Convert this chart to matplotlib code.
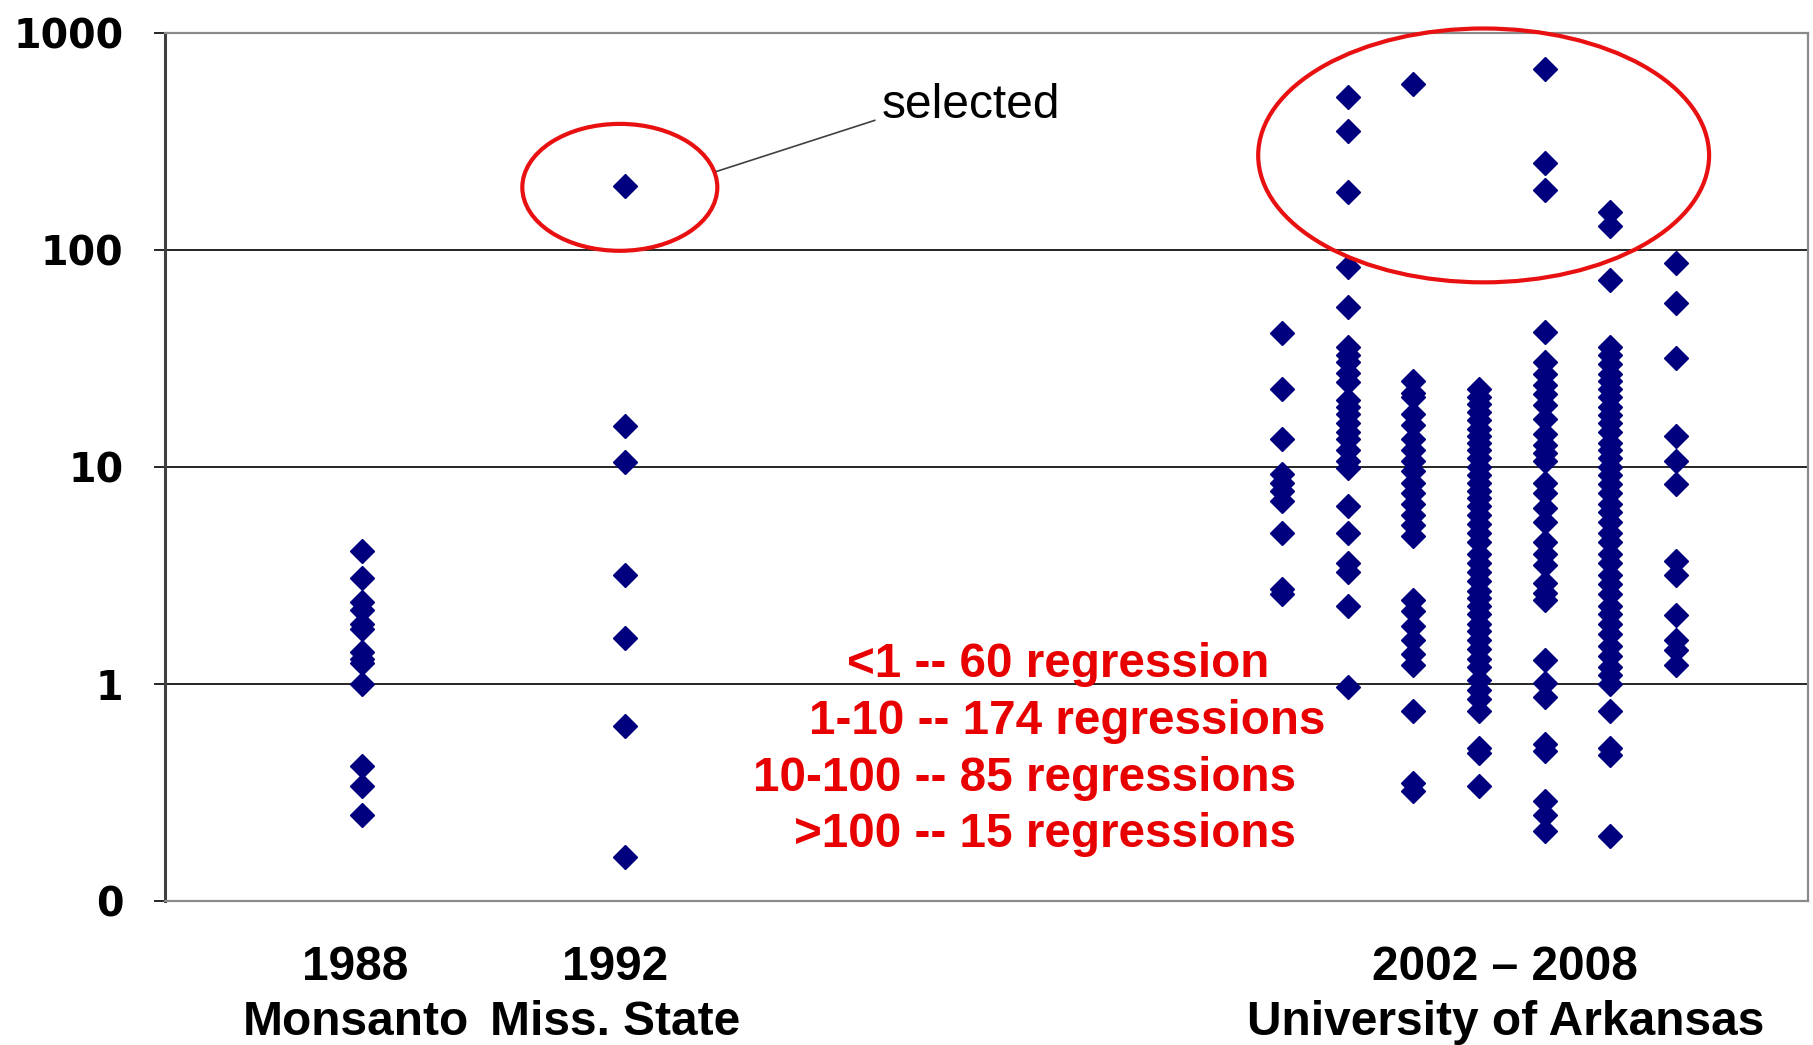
import matplotlib.pyplot as plt
from matplotlib.patches import Ellipse
import numpy as np

# values per year column
years = [1988, 1992, 2002, 2003, 2004, 2005, 2006, 2007, 2008]
vals_1988 = [4.1, 3.1, 2.4, 2.2, 1.9, 1.8, 1.4, 1.3, 1.25, 1.0, 0.42, 0.34, 0.25]
vals_1992 = [199, 15.5, 10.6, 3.2, 1.63, 0.64, 0.16]
vals_2002 = [41.5, 23, 13.5, 9.3, 8.5, 7.8, 7.0, 5.0, 2.75, 2.6]
vals_2003 = [510, 355, 185, 84, 55, 36, 33, 30.5, 27.2, 24.7, 20.5, 19, 17.6, 16,
             14.5, 13.5, 12, 10.7, 9.9, 6.65, 5.0, 3.6, 3.3, 2.3, 0.97]
vals_2004 = [582, 25, 22, 21, 17.6, 15.7, 13.5, 12, 10.7, 9.6, 8.5, 7.6, 6.8, 6.05,
             5.4, 4.8, 2.43, 2.17, 1.86, 1.6, 1.37, 1.22, 0.75, 0.35, 0.32]
vals_2005 = [23, 21, 19.5, 18, 16.5, 15, 14, 13, 12, 11, 10, 9.2, 8.5, 7.8, 7.2,
             6.6, 6.0, 5.5, 5.0, 4.5, 4.0, 3.6, 3.3, 3.0, 2.7, 2.5, 2.3, 2.1, 1.9,
             1.75, 1.6, 1.45, 1.3, 1.2, 1.05, 0.94, 0.85, 0.75, 0.51, 0.48, 0.34]
vals_2006 = [688, 253, 189, 42, 30.5, 27, 24, 21.7, 19.3, 16.6, 14.3, 12.7, 11.6,
             10.7, 8.5, 7.6, 6.5, 5.6, 4.5, 4.0, 3.55, 2.94, 2.62, 2.43, 1.29,
             1.01, 0.87, 0.53, 0.49, 0.29, 0.25, 0.21]
vals_2007 = [150, 130, 73, 36, 33, 30, 27, 25, 23, 21, 19, 17.5, 16, 14.5, 13, 12,
             11, 10, 9.2, 8.4, 7.6, 6.8, 6.2, 5.6, 5.0, 4.5, 4.0, 3.6, 3.2, 2.9,
             2.6, 2.3, 2.1, 1.9, 1.7, 1.5, 1.35, 1.2, 1.1, 1.0, 0.75, 0.51, 0.47, 0.2]
vals_2008 = [87, 57, 32, 14, 10.7, 8.4, 3.7, 3.17, 2.08, 1.6, 1.43, 1.22]
columns = [vals_1988, vals_1992, vals_2002, vals_2003, vals_2004, vals_2005,
           vals_2006, vals_2007, vals_2008]

ytick_vals = [0.1, 1, 10, 100, 1000]
ytick_labels = ['0', '1', '10', '100', '1000']

group_x = [1987.9, 1991.85, 2005.4]
group_years = ['1988', '1992', '2002 \u2013 2008']
group_names = ['Monsanto', 'Miss. State', 'University of Arkansas']

count_lines = ['<1 -- 60 regression', '1-10 -- 174 regressions',
               '10-100 -- 85 regressions', '>100 -- 15 regressions']
count_x = [0.415, 0.392, 0.358, 0.383]
count_y = [0.2725, 0.2068, 0.1412, 0.0766]

fig = plt.figure(figsize=(18.13, 10.45), dpi=100)
ax = fig.add_axes([0.091, 0.1378, 0.906, 0.8302])

for yr, vals in zip(years, columns):
    ax.plot([yr] * len(vals), vals, linestyle='none', marker='D', ms=12.5,
            color='#00007F', mec='#00007F', zorder=3)

ax.set_yscale('log')
ax.set_ylim(0.1, 1000)
ax.set_xlim(1985, 2010)
ax.set_yticks(ytick_vals, ytick_labels)
ax.yaxis.set_minor_locator(plt.NullLocator())
ax.set_xticks([])
ax.tick_params(axis='y', direction='out', length=8, width=1.2, color='black', pad=22)
for lab in ax.get_yticklabels():
    lab.set_fontfamily('DejaVu Sans')
    lab.set_fontweight('bold')
    lab.set_fontsize(28.5)

ax.set_axisbelow(True)
ax.yaxis.grid(True, color='black', linewidth=1.2)
gl = ax.yaxis.get_gridlines()
gl[0].set_visible(False)
gl[-1].set_visible(False)

for side in ['top', 'right', 'bottom']:
    ax.spines[side].set_color('#8a8a8a')
    ax.spines[side].set_linewidth(1.6)
ax.spines['left'].set_color('#404040')
ax.spines['left'].set_linewidth(2.2)

# group labels under the axis
for gx, gy, gn in zip(group_x, group_years, group_names):
    ax.text(gx, -0.077, gy, transform=ax.get_xaxis_transform(), ha='center',
            va='center', fontsize=34.5, fontweight='bold', family='Liberation Sans')
    ax.text(gx, -0.140, gn, transform=ax.get_xaxis_transform(), ha='center',
            va='center', fontsize=34.5, fontweight='bold', family='Liberation Sans')

# red counts
for t, cx, cy in zip(count_lines, count_x, count_y):
    ax.text(cx, cy, t, transform=ax.transAxes, ha='left', va='center',
            fontsize=34.3, fontweight='bold', color='#E80000', family='Liberation Sans',
            zorder=4)

# callout
ax.add_patch(Ellipse((0.2769, 0.8226), 0.1187, 0.1463, transform=ax.transAxes,
                     fill=False, edgecolor='#E81010', linewidth=3, zorder=5, clip_on=False))
ax.add_patch(Ellipse((0.8028, 0.8594), 0.2745, 0.2926, transform=ax.transAxes,
                     fill=False, edgecolor='#E81010', linewidth=3, zorder=5, clip_on=False))
ax.plot([0.3359, 0.4321], [0.841, 0.8998], transform=ax.transAxes, color='#404040',
        linewidth=1.2, zorder=5)
ax.text(0.436, 0.9175, 'selected', transform=ax.transAxes, ha='left', va='center',
        fontsize=34.5, family='Liberation Sans', zorder=5)

fig.savefig('out.png', dpi=100)
